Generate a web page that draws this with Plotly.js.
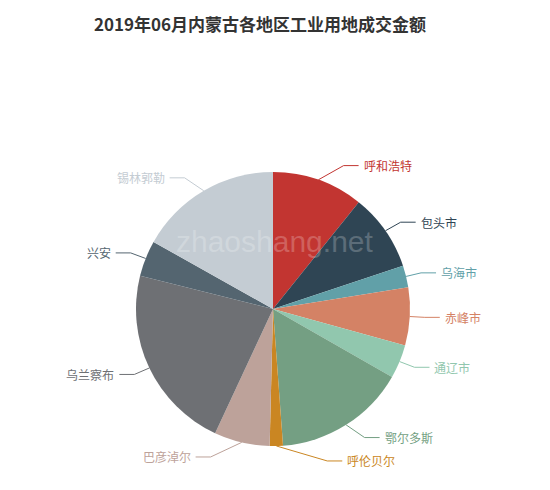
<!DOCTYPE html>
<html>
<head>
<meta charset="utf-8">
<script src="https://cdn.plot.ly/plotly-3.0.1.min.js"></script>
<style>
  html, body { margin: 0; padding: 0; background: #fff; }
  #chart { width: 550px; height: 490px; }
</style>
</head>
<body>
<div id="chart"></div>
<script>
// 地区 / 成交金额 (approx.)
const regions = ['呼和浩特', '包头市', '乌海市', '赤峰市', '通辽市', '鄂尔多斯',
                 '呼伦贝尔', '巴彦淖尔', '乌兰察布', '兴安', '锡林郭勒'];
const amounts = [3875, 3285, 930, 2450, 1430, 5610, 560, 2360, 7900, 1530, 6070];
const colors = ['#c23531', '#2f4554', '#61a0a8', '#d48265', '#91c7ae', '#749f83',
                '#ca8622', '#bda29a', '#6e7074', '#546570', '#c4ccd3'];

const W = 550, H = 490;
const cx = 273, cy = 309, R = 137;   // pie centre / radius in px
const L1 = 15, L2 = 15;              // label line lengths

// px -> paper
const px = x => x / W;
const py = y => 1 - y / H;

// labels + leader lines, placed from the slice mid angles
let total = amounts.reduce((s, v) => s + v, 0);
let acc = 0;
let annotations = [];
let shapes = [];
for (let i = 0; i < amounts.length; i++) {
  let mid = (acc + amounts[i] / 2) / total * 2 * Math.PI;  // clockwise from 12 o'clock
  acc += amounts[i];
  let sx = Math.sin(mid), sy = -Math.cos(mid);
  let dir = sx < 0 ? -1 : 1;
  let x0 = cx + R * sx, y0 = cy + R * sy;
  let y1 = cy + (R + L1) * sy;
  let dy = Math.abs(y1 - cy);
  let dx = Math.sqrt((R + L1 + L2) ** 2 - dy * dy);
  let tx = cx + dir * dx;
  let x1 = tx - dir * L2;
  shapes.push({
    type: 'path', xref: 'paper', yref: 'paper',
    path: `M ${px(x0)} ${py(y0)} L ${px(x1)} ${py(y1)} L ${px(tx)} ${py(y1)}`,
    line: {color: colors[i], width: 1}
  });
  annotations.push({
    text: regions[i], xref: 'paper', yref: 'paper',
    x: px(tx + dir * 3), y: py(y1),
    xanchor: dir < 0 ? 'right' : 'left', yanchor: 'middle',
    showarrow: false,
    font: {size: 12, color: colors[i], family: 'Noto Sans CJK SC, sans-serif'}
  });
}

// watermark
annotations.push({
  text: 'zhaoshang.net', xref: 'paper', yref: 'paper',
  x: px(274), y: py(242), xanchor: 'center', yanchor: 'middle',
  showarrow: false,
  font: {size: 30, color: 'rgba(255,255,255,0.22)', family: 'Liberation Sans, Arial, sans-serif'}
});

const data = [{
  type: 'pie',
  labels: regions,
  values: amounts,
  sort: false,
  direction: 'clockwise',
  rotation: 0,
  textinfo: 'none',
  hoverinfo: 'label+value+percent',
  marker: {colors: colors, line: {width: 0}},
  domain: {x: [px(cx - R), px(cx + R)], y: [py(cy + R), py(cy - R)]},
  showlegend: false
}];

const layout = {
  width: W, height: H,
  margin: {l: 0, r: 0, t: 0, b: 0},
  paper_bgcolor: '#fff',
  title: {
    text: '2019年06月内蒙古各地区工业用地成交金额',
    x: 260 / W, xanchor: 'center',
    y: py(25), yanchor: 'middle',
    font: {size: 17, color: '#333', family: 'Noto Sans CJK SC, sans-serif', weight: 'bold'}
  },
  annotations: annotations,
  shapes: shapes
};

Plotly.newPlot('chart', data, layout, {displayModeBar: false, staticPlot: true});
</script>
</body>
</html>
